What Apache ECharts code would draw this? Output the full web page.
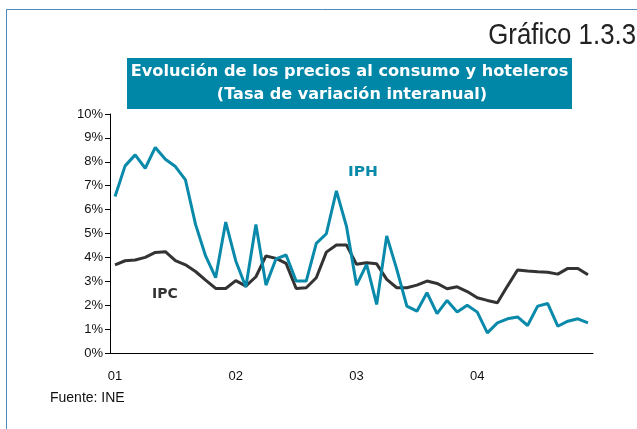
<!DOCTYPE html>
<html>
<head>
<meta charset="utf-8">
<script src="https://cdn.jsdelivr.net/npm/echarts@6/dist/echarts.min.js"></script>
<style>
html,body{margin:0;padding:0;background:#fff;}
#c{width:637px;height:429px;}
</style>
</head>
<body>
<div id="c"></div>
<script>
const categories = [
 "ene-01","feb-01","mar-01","abr-01","may-01","jun-01","jul-01","ago-01","sep-01","oct-01","nov-01","dic-01",
 "ene-02","feb-02","mar-02","abr-02","may-02","jun-02","jul-02","ago-02","sep-02","oct-02","nov-02","dic-02",
 "ene-03","feb-03","mar-03","abr-03","may-03","jun-03","jul-03","ago-03","sep-03","oct-03","nov-03","dic-03",
 "ene-04","feb-04","mar-04","abr-04","may-04","jun-04","jul-04","ago-04","sep-04","oct-04","nov-04","dic-04"
];
const tickLabels = ["01","02","03","04"];
const iph = [6.55,7.83,8.29,7.73,8.60,8.11,7.80,7.24,5.38,4.06,3.15,5.48,
 3.85,2.76,5.38,2.84,3.94,4.10,3.01,3.01,4.59,4.99,6.78,5.30,
 2.84,3.71,2.03,4.90,3.50,1.96,1.75,2.52,1.65,2.20,1.72,2.00,
 1.71,0.84,1.26,1.43,1.51,1.15,1.96,2.07,1.12,1.33,1.43,1.26];
const ipc = [3.69,3.86,3.89,4.00,4.21,4.24,3.87,3.69,3.41,3.05,2.70,2.70,
 3.03,2.80,3.19,4.06,3.96,3.75,2.70,2.73,3.15,4.22,4.52,4.52,
 3.71,3.78,3.73,3.08,2.73,2.73,2.84,3.01,2.91,2.69,2.77,2.57,
 2.31,2.20,2.10,2.80,3.47,3.43,3.40,3.38,3.30,3.54,3.54,3.27];

const chart = echarts.init(document.getElementById('c'));
const font = '"Liberation Sans", Arial, sans-serif';
chart.setOption({
  animation: false,
  grid: {left: 110, right: 44, top: 114, bottom: 76, containLabel: false},
  xAxis: {
    type: 'category', data: categories, boundaryGap: true,
    axisLine: {lineStyle: {color: '#000', width: 1}},
    axisTick: {interval: 11, length: 5, lineStyle: {color: '#000'}},
    axisLabel: {
      interval: 11, margin: 17, color: '#111', fontSize: 13, fontFamily: font,
      formatter: (v, i) => tickLabels[Math.floor(i / 12)]
    },
    splitLine: {show: false}
  },
  yAxis: {
    type: 'value', min: 0, max: 10, interval: 1,
    axisLine: {show: true, lineStyle: {color: '#000', width: 1}},
    axisTick: {show: true, length: 5, lineStyle: {color: '#000'}},
    axisLabel: {margin: 7, color: '#111', fontSize: 13, fontFamily: font, formatter: v => v + '%'},
    splitLine: {show: false}
  },
  series: [
    {name: 'IPC', type: 'line', data: ipc, symbol: 'none', lineStyle: {color: '#333333', width: 3}, z: 2},
    {name: 'IPH', type: 'line', data: iph, symbol: 'none', lineStyle: {color: '#0a8aaa', width: 3}, z: 3}
  ],
  graphic: [
    {type: 'polyline', shape: {points: [[6.5, 700], [6.5, 9.5], [700, 9.5]]}, style: {stroke: '#4b8cc0', lineWidth: 1, fill: null}},
    {type: 'text', x: 636, y: 36, scaleX: 0.86, style: {text: 'Gráfico 1.3.3', font: '30px "Liberation Sans", Arial, sans-serif', fill: '#222', align: 'right', verticalAlign: 'middle'}},
    {type: 'rect', shape: {x: 127, y: 58, width: 445, height: 51}, style: {fill: '#0087a8'}},
    {type: 'text', x: 349.5, y: 72.5, scaleX: 1.08, style: {text: 'Evolución de los precios al consumo y hoteleros', font: 'bold 15px "DejaVu Sans", sans-serif', fill: '#fff', align: 'center', verticalAlign: 'middle'}},
    {type: 'text', x: 352, y: 95.5, scaleX: 1.07, style: {text: '(Tasa de variación interanual)', font: 'bold 15px "DejaVu Sans", sans-serif', fill: '#fff', align: 'center', verticalAlign: 'middle'}},
    {type: 'text', x: 348, y: 172, scaleX: 1.1, style: {text: 'IPH', font: 'bold 14px "DejaVu Sans", sans-serif', fill: '#0a8aaa', verticalAlign: 'middle'}},
    {type: 'text', x: 152, y: 294, style: {text: 'IPC', font: 'bold 14px "DejaVu Sans", sans-serif', fill: '#333', verticalAlign: 'middle'}},
    {type: 'text', x: 50, y: 398, style: {text: 'Fuente: INE', font: '14px "Liberation Sans", Arial, sans-serif', fill: '#111', verticalAlign: 'middle'}}
  ]
});
</script>
</body>
</html>
